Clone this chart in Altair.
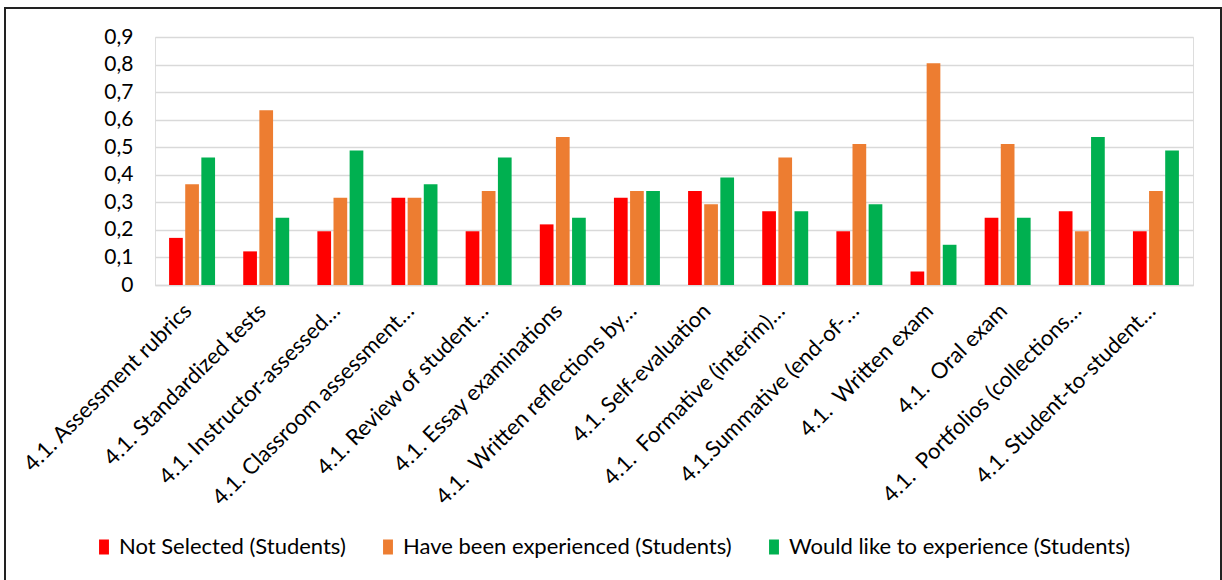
import altair as alt
import pandas as pd

# Assessment methods (x categories); a no-break space keeps the double gaps
categories = [
    "4.1. Assessment rubrics",
    "4.1. Standardized tests",
    "4.1. Instructor-assessed…",
    "4.1. Classroom assessment…",
    "4.1. Review of student…",
    "4.1. Essay examinations",
    "4.1.\u00a0 Written reflections by…",
    "4.1. Self-evaluation",
    "4.1.\u00a0 Formative (interim)…",
    "4.1.Summative (end-of-…",
    "4.1.\u00a0 Written exam",
    "4.1.\u00a0 Oral exam",
    "4.1.\u00a0 Portfolios (collections…",
    "4.1. Student-to-student…",
]

series_names = [
    "Not Selected (Students)",
    "Have been experienced (Students)",
    "Would like to experience (Students)",
]
series_colors = ["#FF0000", "#ED7D31", "#00B050"]

not_selected = [0.171, 0.122, 0.195, 0.317, 0.195, 0.220, 0.317,
                0.341, 0.268, 0.195, 0.049, 0.244, 0.268, 0.195]
experienced = [0.366, 0.634, 0.317, 0.317, 0.341, 0.537, 0.341,
               0.293, 0.463, 0.512, 0.805, 0.512, 0.195, 0.341]
would_like = [0.463, 0.244, 0.488, 0.366, 0.463, 0.244, 0.341,
              0.390, 0.268, 0.293, 0.146, 0.244, 0.537, 0.488]

rows = []
for name, vals in zip(series_names, [not_selected, experienced, would_like]):
    for cat, v in zip(categories, vals):
        rows.append({"method": cat, "series": name, "value": v})
df = pd.DataFrame(rows)

FONT = "Lato"

bars = alt.Chart(df).mark_bar().encode(
    x=alt.X(
        "method:N",
        sort=categories,
        title=None,
        scale=alt.Scale(paddingInner=0.38, paddingOuter=0.19),
        axis=alt.Axis(
            labelAngle=-45,
            labelAlign="right",
            labelBaseline="middle",
            labelPadding=22,
            labelOffset=-4,
            labelLimit=400,
            labelFontSize=22,
            labelFont=FONT,
            labelColor="#000000",
            ticks=False,
            domain=True,
            domainColor="#d9d9d9",
            domainWidth=1.5,
            grid=False,
        ),
    ),
    xOffset=alt.XOffset(
        "series:N",
        sort=series_names,
        scale=alt.Scale(paddingInner=0.15, paddingOuter=0.0),
    ),
    y=alt.Y(
        "value:Q",
        title=None,
        scale=alt.Scale(domain=[0, 0.9], nice=False),
        axis=alt.Axis(
            values=[0, 0.1, 0.2, 0.3, 0.4, 0.5, 0.6, 0.7, 0.8, 0.9],
            labelExpr="datum.value == 0 ? '0' : replace(format(datum.value, '.1f'), '.', ',')",
            labelFontSize=21,
            labelFont=FONT,
            labelColor="#000000",
            labelPadding=22,
            ticks=False,
            domain=False,
            grid=True,
            gridColor="#d9d9d9",
            gridWidth=1.5,
        ),
    ),
    color=alt.Color(
        "series:N",
        sort=series_names,
        scale=alt.Scale(domain=series_names, range=series_colors),
        legend=alt.Legend(
            title=None,
            orient="none",
            direction="horizontal",
            legendX=-66,
            legendY=495,
            symbolType="M-0.33,-0.5H0.33V0.5H-0.33Z",
            symbolSize=900,
            symbolStrokeWidth=0,
            labelFontSize=22,
            labelFont=FONT,
            labelColor="#000000",
            labelLimit=400,
            columnPadding=27,
            labelOffset=0,
        ),
    ),
)

# Outer frame around the whole figure
frame = alt.Chart(pd.DataFrame({"k": [0]})).mark_rect(
    fill=None, stroke="#222222", strokeWidth=2, clip=False
).encode(
    x=alt.value(-150), x2=alt.value(1066),
    y=alt.value(-29), y2=alt.value(560),
)

chart = alt.layer(frame, bars).properties(
    width=1038,
    height=248,
    autosize=alt.AutoSizeParams(type="none"),
    padding={"left": 155, "top": 37, "right": 29, "bottom": 295},
).configure_view(stroke=None).configure(background="#ffffff")

chart.save("out.html", embed_options={"renderer": "svg", "actions": False})
